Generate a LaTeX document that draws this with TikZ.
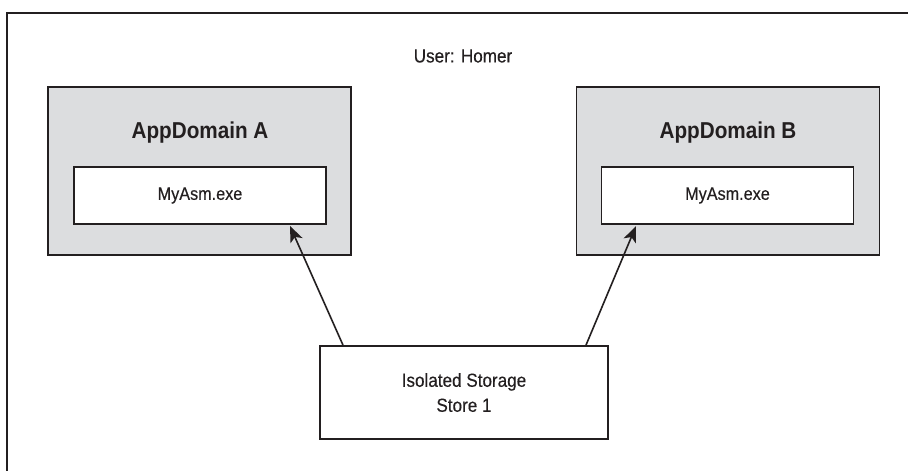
\documentclass[tikz,border=0pt]{standalone}
\usepackage{fontspec}
\setmainfont{Liberation Sans}[FakeStretch=0.9, UprightFeatures={FakeBold=0.3}]
\usetikzlibrary{arrows.meta}
\definecolor{domgrey}{HTML}{DCDDDF}
\definecolor{ink}{HTML}{231F20}
\tikzset{
  outerframe/.style={draw=ink, line width=1.6pt},
  appdomainbox/.style={draw=ink, line width=1.8pt, fill=domgrey, minimum width=303pt, minimum height=168pt, inner sep=0pt},
  asmbox/.style={draw=ink, line width=1.8pt, fill=white, minimum width=252pt, minimum height=57pt, inner sep=0pt, font=\fontsize{18}{20}\selectfont, text=ink},
  storebox/.style={draw=ink, line width=1.8pt, fill=white, minimum width=288pt, minimum height=93pt, inner sep=0pt, align=center, font=\fontsize{19}{25}\selectfont, text=ink},
  domtitle/.style={font=\bfseries\fontsize{23}{26}\selectfont, text=ink, inner sep=0pt},
  usrlabel/.style={font=\fontsize{19}{22}\selectfont, text=ink, inner sep=0pt},
  conn/.style={draw=ink, line width=1.6pt, -{Stealth[length=16pt, width=13pt, inset=4pt]}}
}
\begin{document}
\begin{tikzpicture}[x=1pt, y=-1pt]
\useasboundingbox (0,0) rectangle (908,471);
\fill[white] (0,0) rectangle (908,471);
\draw[outerframe] (910,13) -- (7,13) -- (7,473);
\node[usrlabel] (user) at (463,56) {User: Homer};
\node[appdomainbox] (domA) at (199.5,171) {};
\node[appdomainbox] (domB) at (728,171) {};
\node[domtitle] (titA) at (200,133) {AppDomain A};
\node[domtitle] (titB) at (728,133) {AppDomain B};
\node[asmbox] (asmA) at (200,195.5) {MyAsm.exe};
\node[asmbox] (asmB) at (727.5,195.5) {MyAsm.exe};
\node[storebox] (store) at (464,392.5) {Isolated Storage\\Store 1};
\coordinate (tipA) at (290,226);
\coordinate (tipB) at (636,226);
\draw[conn] ([xshift=-121pt]store.north) -- (tipA);
\draw[conn] ([xshift=122pt]store.north) -- (tipB);
\end{tikzpicture}
\end{document}
